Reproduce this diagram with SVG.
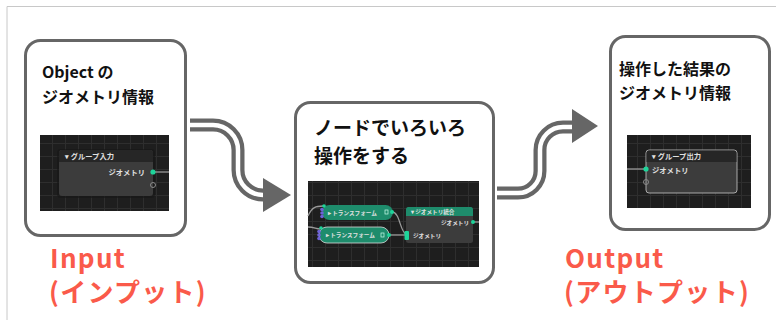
<svg xmlns="http://www.w3.org/2000/svg" width="776" height="320" viewBox="0 0 776 320">
<defs>
<pattern id="grid" width="13" height="13" patternUnits="userSpaceOnUse">
<rect width="13" height="13" fill="#1e1e1e"/>
<path d="M0,0.5 H13 M0.5,0 V13" stroke="#2e2e2e" stroke-width="1"/>
</pattern>
<style>
.box{fill:#fff;stroke:#666;stroke-width:3}
.ttl{font-family:"Noto Sans CJK JP","Noto Sans",sans-serif;font-weight:700;fill:#111}
.big{font-family:"Noto Sans CJK JP","Noto Sans",sans-serif;font-weight:700;fill:#fa5a4a;font-size:26px;letter-spacing:1.3px}
.ui{font-family:"Noto Sans CJK JP","Noto Sans",sans-serif;font-size:7.3px;fill:#e0e0e0;font-weight:700}
.ui2{font-family:"Noto Sans CJK JP","Noto Sans",sans-serif;font-size:5.6px;fill:#e0e0e0;font-weight:700}
.body{fill:#3c3c3c}
.hdr{fill:#262626}
.grn{fill:#1e8c6c}
.sock{fill:#1ed49a}
.hol{fill:none;stroke:#8a8a8a;stroke-width:1}
.pur{fill:#6e62d8}
.lnk{fill:none;stroke:#9a9a9a;stroke-width:1.3}
.arO{fill:none;stroke:#666;stroke-width:13}
.arI{fill:none;stroke:#fff;stroke-width:4.5}
</style>
</defs>
<rect width="776" height="320" fill="#fff"/>
<path d="M7,320 V6.5 H776" fill="none" stroke="#c8c8c8" stroke-width="1"/>

<g id="connectors">
<path class="arO" d="M190,125 H213 A25,25 0 0 1 238,150 V170 A25,25 0 0 0 263,195 H266"/>
<path class="arI" d="M190,125 H213 A25,25 0 0 1 238,150 V170 A25,25 0 0 0 263,195 H266"/>
<polygon points="263,178 291,195 263,212" fill="#666"/>
<path class="arO" d="M497,193 H518 A22,22 0 0 0 540,171 V150 A23,23 0 0 1 563,127 H574"/>
<path class="arI" d="M497,193 H518 A22,22 0 0 0 540,171 V150 A23,23 0 0 1 563,127 H574"/>
<polygon points="572,109 598,126 572,143" fill="#666"/>
</g>

<g id="box-input">
<rect class="box" x="25.5" y="40.5" width="160" height="195" rx="15"/>
<text class="ttl" font-size="16" x="42" y="78">Object の</text>
<text class="ttl" font-size="16" x="42" y="103">ジオメトリ情報</text>
<rect x="40" y="135" width="129" height="76" fill="url(#grid)"/>
<rect x="57" y="149" width="98" height="49" rx="4" fill="#161616" opacity="0.6"/>
<rect class="body" x="59" y="150" width="94" height="46" rx="3"/>
<path class="hdr" d="M62,150 H150 A3,3 0 0 1 153,153 V162 H59 V153 A3,3 0 0 1 62,150 Z"/>
<text class="ui" x="65" y="159">▾ グループ入力</text>
<text class="ui" x="145" y="175" text-anchor="end">ジオメトリ</text>
<path class="lnk" d="M153,172 H169"/>
<circle class="sock" cx="153" cy="172" r="2.6"/>
<circle class="hol" cx="153" cy="185" r="2.5"/>
</g>

<g id="box-process">
<rect class="box" x="295.5" y="102.5" width="198" height="180" rx="15"/>
<text class="ttl" font-size="19" x="314" y="135">ノードでいろいろ</text>
<text class="ttl" font-size="19" x="314" y="163">操作をする</text>
<rect x="308" y="181" width="171" height="86" fill="url(#grid)"/>
<path class="lnk" d="M308,216 C312,207 316,206 323,206"/>
<path class="lnk" d="M308,227 C314,227 316,229 320,229"/>
<path class="lnk" d="M392,212 C400,212 400,232 406,234"/>
<path class="lnk" d="M388,235 H406"/>
<path class="lnk" d="M473,222 H479"/>
<rect class="grn" x="322" y="205" width="71" height="15" rx="7.5"/>
<text class="ui2" x="328" y="214.5">▸ トランスフォーム</text>
<rect x="385" y="210" width="3" height="4" fill="none" stroke="#cfe" stroke-width="0.7"/>
<circle class="sock" cx="392" cy="212" r="2"/>
<circle class="sock" cx="324" cy="206" r="1.8"/>
<circle class="pur" cx="322" cy="209.5" r="1.8"/>
<circle class="pur" cx="322" cy="213" r="1.8"/>
<circle class="pur" cx="322" cy="216.5" r="1.8"/>
<rect class="grn" x="319" y="227" width="70" height="16" rx="8" stroke="#d8d8d8" stroke-width="0.8"/>
<text class="ui2" x="326" y="237">▸ トランスフォーム</text>
<rect x="381" y="233" width="3" height="4" fill="none" stroke="#cfe" stroke-width="0.7"/>
<circle class="sock" cx="389" cy="235" r="2"/>
<circle class="sock" cx="321" cy="228" r="1.8"/>
<circle class="pur" cx="319" cy="231.5" r="1.8"/>
<circle class="pur" cx="319" cy="235" r="1.8"/>
<circle class="pur" cx="319" cy="238.5" r="1.8"/>
<rect class="body" x="406" y="207" width="67" height="36" rx="2.5"/>
<path class="grn" d="M408.5,207 H470.5 A2.5,2.5 0 0 1 473,209.5 V216 H406 V209.5 A2.5,2.5 0 0 1 408.5,207 Z"/>
<text class="ui2" x="411" y="213.5">▾ ジオメトリ統合</text>
<text class="ui2" x="469" y="224.5" text-anchor="end">ジオメトリ</text>
<circle class="sock" cx="473" cy="222" r="2"/>
<rect class="sock" x="404.5" y="231" width="4.5" height="9" rx="1"/>
<text class="ui2" x="413" y="237.5">ジオメトリ</text>
</g>

<g id="box-output">
<rect class="box" x="610.5" y="36.5" width="159" height="193" rx="15"/>
<text class="ttl" font-size="16" x="619" y="75">操作した結果の</text>
<text class="ttl" font-size="16" x="619" y="99">ジオメトリ情報</text>
<rect x="627" y="135" width="124" height="73" fill="url(#grid)"/>
<rect class="body" x="646" y="150" width="91" height="43" rx="3" stroke="#b8b8b8" stroke-width="0.9"/>
<path class="hdr" d="M649,150.5 H734 A2.5,2.5 0 0 1 736.5,153 V162 H646.5 V153 A2.5,2.5 0 0 1 649,150.5 Z"/>
<text class="ui" x="652" y="159">▾ グループ出力</text>
<text class="ui" x="652" y="172.5">ジオメトリ</text>
<path class="lnk" d="M627,169 H646"/>
<circle class="sock" cx="646" cy="169" r="2.6"/>
<circle class="hol" cx="646" cy="182" r="2.5"/>
</g>

<g id="label-input">
<text class="big" x="50" y="268">Input</text>
<text class="big" x="49" y="302">(インプット)</text>
</g>
<g id="label-output">
<text class="big" x="565" y="268">Output</text>
<text class="big" x="564" y="302">(アウトプット)</text>
</g>
</svg>
